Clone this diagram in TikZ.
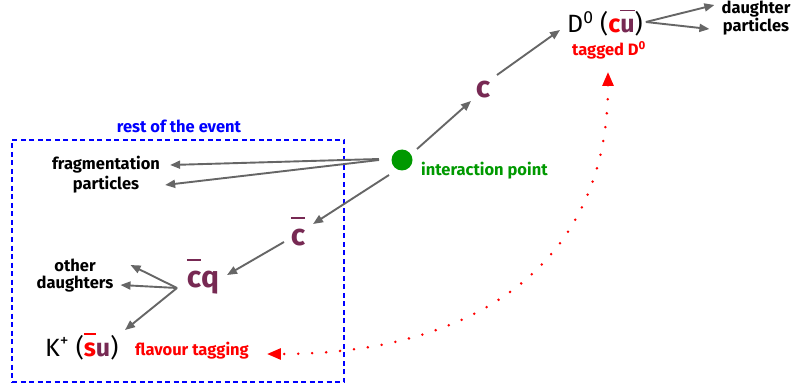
\documentclass[tikz,border=0pt]{standalone}
\usepackage{fontspec}
\setmainfont{Fira Sans}
\usetikzlibrary{arrows.meta}
\definecolor{quark}{RGB}{119,41,83}
\definecolor{tagred}{RGB}{255,0,0}
\definecolor{ipgreen}{RGB}{0,153,0}
\definecolor{roeblue}{RGB}{0,0,255}
\definecolor{trkgray}{RGB}{102,102,102}
\newcommand\qbar[1]{\setbox0\hbox{#1}\rlap{\rule[0.86em]{\wd0}{1.8pt}}\box0}
\begin{document}
\begin{tikzpicture}[x=1pt,y=-1pt,
  trk/.style={draw=trkgray, line width=1.9pt, -{Triangle[length=10pt,width=8pt]}},
  lbl/.style={font=\fontsize{16.5}{17}\selectfont\bfseries, align=center, inner sep=0pt},
  qk/.style={font=\fontsize{30}{32}\selectfont\bfseries, text=quark, inner sep=0pt},
  hadron/.style={font=\fontsize{25}{27}\selectfont, inner sep=0pt},
  tagline/.style={draw=tagred, line width=2.8pt, line cap=round, dash pattern=on 0pt off 14pt,
    {Triangle[length=14pt,width=11pt]}-{Triangle[length=14pt,width=11pt]}},
  roebox/.style={draw=roeblue, line width=2.2pt, dash pattern=on 5pt off 3.5pt}]
\useasboundingbox (0,0) rectangle (792,390);

% rest of the event box
\node[roebox, minimum width=332pt, minimum height=242pt, inner sep=0pt] (roe) at (178,261) {};
\node[lbl, text=roeblue, anchor=base] (roelbl) at (179,133) {rest of the event};

% interaction point
\node[circle, fill=ipgreen, minimum size=21pt, inner sep=0pt] (ip) at (402,160) {};
\node[lbl, text=ipgreen, anchor=base west] (iplbl) at (421,176) {interaction point};

% charm quark and D0
\node[qk] (c) at (483,90) {c};
\node[hadron, anchor=base west] (D0) at (567,33)
  {D\textsuperscript{0} (\textcolor{tagred}{\bfseries c}\textcolor{quark}{\bfseries\qbar{u}})};
\node[lbl, text=tagred, anchor=base] (tagD) at (609,56) {tagged D\textsuperscript{0}};
\node[lbl] (daught) at (756,18) {daughter\\particles};

% fragmentation
\node[lbl] (frag) at (106,175) {fragmentation\\[2pt]particles};

% anti-charm side
\node[qk, anchor=base] (cb) at (298,245) {\qbar{c}};
\node[qk, anchor=base] (cq) at (203,287) {\qbar{c}q};
\node[lbl] (od) at (75,276) {other\\daughters};
\node[hadron, anchor=base west] (K) at (45,356)
  {K\textsuperscript{+} (\textcolor{tagred}{\bfseries\qbar{s}}\textcolor{quark}{\bfseries u})};
\node[lbl, text=tagred, anchor=base west] (flav) at (135,355) {flavour tagging};

% tracks
\draw[trk] ([shift={(15,-11)}]ip.center) -- ([shift={(-12,11)}]c.center);
\draw[trk] ([shift={(14,-15)}]c.center) -- ([shift={(-7,-3)}]D0.base west);
\draw[trk] ([shift={(3,-11)}]D0.base east) -- ([shift={(-7,-13)}]daught.west);
\draw[trk] ([shift={(3,-11)}]D0.base east) -- ([shift={(-12,11)}]daught.west);
\draw[trk] ([shift={(-23,-1)}]ip.center) -- ([shift={(10,-10)}]frag.east);
\draw[trk] ([shift={(-23,0)}]ip.center) -- ([shift={(5,10)}]frag.east);
\draw[trk] ([shift={(-13,15)}]ip.center) -- ([shift={(15,-21)}]cb.base);
\draw[trk] ([shift={(-14,-3)}]cb.base) -- ([shift={(24,-12)}]cq.base);
\draw[trk] ([shift={(-26,1)}]cq.base) -- ([shift={(17,-11)}]od.east);
\draw[trk] ([shift={(-26,1)}]cq.base) -- ([shift={(7,9)}]od.east);
\draw[trk] ([shift={(-26,1)}]cq.base) -- ([shift={(80,-26)}]K.base west);

% flavour tagging correlation
\draw[tagline] ([shift={(-1,16)}]tagD.base) .. controls (608,260) and (480,354) .. ([shift={(18,-1)}]flav.base east);
\end{tikzpicture}
\end{document}
